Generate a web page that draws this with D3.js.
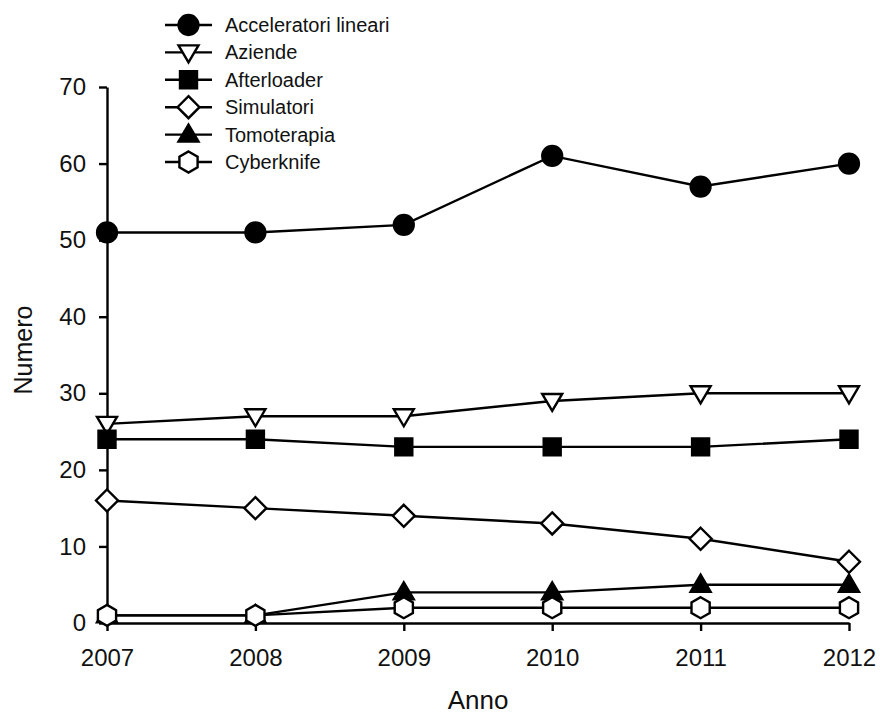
<!DOCTYPE html>
<html>
<head>
<meta charset="utf-8">
<script src="https://cdn.jsdelivr.net/npm/d3@7"></script>
<style>
  html, body { margin: 0; padding: 0; background: #fff; }
  svg { display: block; font-family: "Liberation Sans", Arial, sans-serif; }
</style>
</head>
<body>
<svg id="chart" width="880" height="718"></svg>
<script>
// Years on the horizontal axis
const years = [2007, 2008, 2009, 2010, 2011, 2012];

// One array of counts per series
const acceleratori = [51, 51, 52, 61, 57, 60];
const aziende      = [26, 27, 27, 29, 30, 30];
const afterloader  = [24, 24, 23, 23, 23, 24];
const simulatori   = [16, 15, 14, 13, 11, 8];
const tomoterapia  = [1, 1, 4, 4, 5, 5];
const cyberknife   = [1, 1, 2, 2, 2, 2];

const yTicks = [0, 10, 20, 30, 40, 50, 60, 70];

const series = [
  { name: "Acceleratori lineari", values: acceleratori, shape: "circle",   fill: "#000" },
  { name: "Aziende",              values: aziende,      shape: "triDown",  fill: "#fff" },
  { name: "Afterloader",          values: afterloader,  shape: "square",   fill: "#000" },
  { name: "Simulatori",           values: simulatori,   shape: "diamond",  fill: "#fff" },
  { name: "Tomoterapia",          values: tomoterapia,  shape: "triUp",    fill: "#000" },
  { name: "Cyberknife",           values: cyberknife,   shape: "hexagon",  fill: "#fff" }
];

const svg = d3.select("#chart");
const x = d3.scaleLinear().domain([2007, 2012]).range([107, 849]);
const y = d3.scaleLinear().domain([0, 70]).range([623, 87]);
const sw = 2.4;

// Marker path generators, centred at the origin
function markerPath(shape) {
  switch (shape) {
    case "circle":  return d3.symbol(d3.symbolCircle, 310)();
    case "square":  return "M-8.5,-8.5H8.5V8.5H-8.5Z";
    case "diamond": return "M0,-11L11,0L0,11L-11,0Z";
    case "triDown": return "M-10,-7L10,-7L0,10Z";
    case "triUp":   return "M-10,7L10,7L0,-10Z";
    case "hexagon": {
      const r = 10.5, pts = [];
      for (let i = 0; i < 6; i++) {
        const a = Math.PI / 180 * (60 * i - 90);
        pts.push([r * Math.cos(a), r * Math.sin(a)]);
      }
      return "M" + pts.map(p => p.join(",")).join("L") + "Z";
    }
  }
}

// Axes
const yAxis = svg.append("g")
  .attr("transform", `translate(${x(2007)},0)`)
  .call(d3.axisLeft(y).tickValues(yTicks).tickSize(8).tickPadding(13).tickSizeOuter(0));
const xAxis = svg.append("g")
  .attr("transform", `translate(0,${y(0)})`)
  .call(d3.axisBottom(x).tickValues(years).tickFormat(d3.format("d")).tickSize(8).tickPadding(18).tickSizeOuter(0));

[yAxis, xAxis].forEach(g => {
  g.select(".domain").attr("stroke", "#000").attr("stroke-width", sw);
  g.selectAll(".tick line").attr("stroke", "#000").attr("stroke-width", sw);
  g.selectAll(".tick text")
    .attr("fill", "#111")
    .style("font-size", "24px")
    .style("font-family", "'Liberation Sans', Arial, sans-serif");
});

// Axis titles
svg.append("text")
  .attr("x", (x(2007) + x(2012)) / 2).attr("y", 709)
  .attr("text-anchor", "middle")
  .style("font-size", "26px").attr("fill", "#111")
  .text("Anno");
svg.append("text")
  .attr("transform", "translate(32,350) rotate(-90)")
  .attr("text-anchor", "middle")
  .style("font-size", "25px").attr("fill", "#111")
  .text("Numero");

// Lines first, then markers in legend order so later series sit on top
const line = d3.line().x((d, i) => x(years[i])).y(d => y(d));

series.forEach(s => {
  svg.append("path")
    .attr("d", line(s.values))
    .attr("fill", "none").attr("stroke", "#000").attr("stroke-width", sw);
});
series.forEach(s => {
  svg.append("g").selectAll("path")
    .data(s.values)
    .join("path")
    .attr("transform", (d, i) => `translate(${x(years[i])},${y(d)})`)
    .attr("d", markerPath(s.shape))
    .attr("fill", s.fill).attr("stroke", "#000").attr("stroke-width", sw);
});

// Legend
const legend = svg.append("g").attr("transform", "translate(165,25)");
const rowH = 27.4;
series.forEach((s, i) => {
  const g = legend.append("g").attr("transform", `translate(0,${i * rowH})`);
  g.append("line").attr("x1", 0).attr("x2", 47).attr("y1", 0).attr("y2", 0)
    .attr("stroke", "#000").attr("stroke-width", sw);
  g.append("path").attr("transform", "translate(23.5,0)")
    .attr("d", markerPath(s.shape))
    .attr("fill", s.fill).attr("stroke", "#000").attr("stroke-width", sw);
  g.append("text").attr("x", 60).attr("y", 7)
    .style("font-size", "20px").attr("fill", "#111")
    .text(s.name);
});
</script>
</body>
</html>
